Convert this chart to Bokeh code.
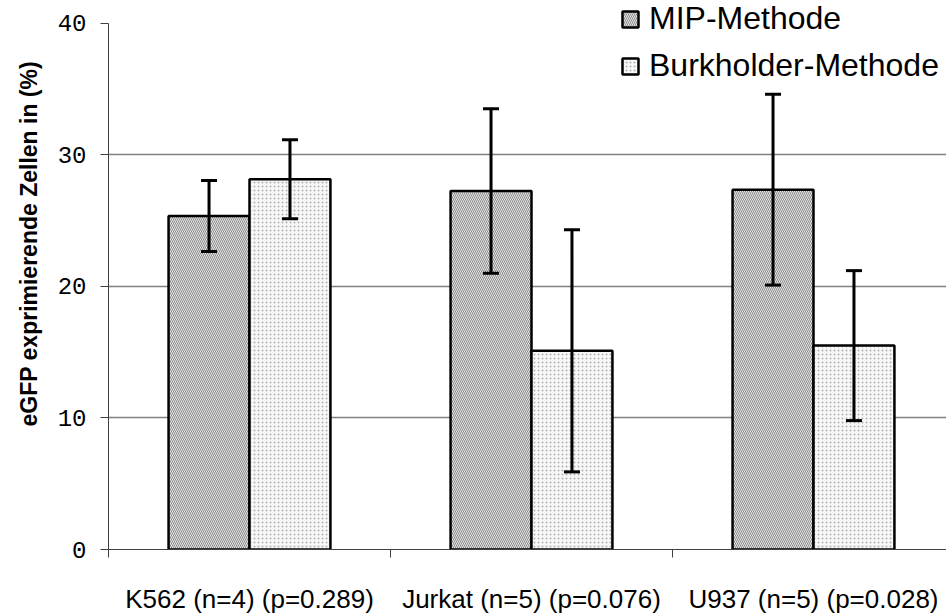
import math
from bokeh.plotting import figure
from bokeh.models import (ColumnDataSource, FixedTicker, Whisker, TeeHead, Legend,
                          LegendItem, Range1d, Title)
from bokeh.embed import file_html
from bokeh.resources import INLINE

# ---- data ----
categories = ["K562 (n=4) (p=0.289)", "Jurkat (n=5) (p=0.076)", "U937 (n=5) (p=0.028)"]
series_names = ["MIP-Methode", "Burkholder-Methode"]
mip_values = [25.35, 27.25, 27.35]
mip_errors = [2.7, 6.25, 7.25]
burk_values = [28.15, 15.1, 15.5]
burk_errors = [3.0, 9.2, 5.7]
y_ticks = [0, 10, 20, 30, 40]
y_label = "eGFP exprimierende Zellen in (%)"

W, H = 946, 616
LEFT, BOTTOM = 108, 63
frame_h = H - BOTTOM            # frame spans full height above the x axis
px_per_unit = 530.0 / 40.0
y_end = frame_h / px_per_unit   # axis top (40) sits 23 px below the frame top
cat_px = 282.0
frame_w = W - LEFT
x_end = frame_w / cat_px

bar_w = 0.287
centers = [i + 0.5 for i in range(len(categories))]
mip_x = [c - bar_w / 2 for c in centers]
burk_x = [c + bar_w / 2 for c in centers]

p = figure(width=W, height=H, output_backend="svg", toolbar_location=None,
           x_range=Range1d(0, x_end), y_range=Range1d(0, y_end),
           min_border_left=LEFT, min_border_top=0, min_border_bottom=BOTTOM,
           min_border_right=0)
p.outline_line_color = None
p.background_fill_color = "white"
p.border_fill_color = "white"

# grid
p.xgrid.visible = False
p.ygrid.ticker = FixedTicker(ticks=[10, 20, 30])
p.ygrid.grid_line_color = "#808080"
p.ygrid.grid_line_width = 1.5

src_mip = ColumnDataSource(dict(x=mip_x, top=mip_values,
                                upper=[v + e for v, e in zip(mip_values, mip_errors)],
                                lower=[v - e for v, e in zip(mip_values, mip_errors)]))
src_burk = ColumnDataSource(dict(x=burk_x, top=burk_values,
                                 upper=[v + e for v, e in zip(burk_values, burk_errors)],
                                 lower=[v - e for v, e in zip(burk_values, burk_errors)]))

r_mip = p.vbar(x="x", top="top", width=bar_w, bottom=0, source=src_mip,
               fill_color="#e6e6e6", line_color="black", line_width=2.5,
               hatch_pattern="\\", hatch_color="#8a8a8a", hatch_scale=4, hatch_weight=1)
r_burk = p.vbar(x="x", top="top", width=bar_w, bottom=0, source=src_burk,
                fill_color="#f8f8f8", line_color="black", line_width=2.5,
                hatch_pattern=".", hatch_color="#b0b0b0", hatch_scale=4, hatch_weight=1)

for src in (src_mip, src_burk):
    w = Whisker(base="x", upper="upper", lower="lower", source=src,
                line_color="black", line_width=3, level="annotation",
                upper_head=TeeHead(size=16, line_width=3, line_color="black"),
                lower_head=TeeHead(size=16, line_width=3, line_color="black"))
    p.add_layout(w)

# y axis
p.yaxis.ticker = FixedTicker(ticks=y_ticks)
p.yaxis.bounds = (0, 40)
p.yaxis.major_label_text_font = "Liberation Mono"
p.yaxis.major_label_text_font_size = "24px"
p.yaxis.major_label_text_color = "black"
p.yaxis.major_tick_out = 8
p.yaxis.major_tick_in = 0
p.yaxis.minor_tick_line_color = None
p.yaxis.axis_line_color = "#404040"
p.yaxis.major_tick_line_color = "#404040"
p.yaxis.major_label_standoff = 14

# x axis
p.xaxis.ticker = FixedTicker(ticks=centers, minor_ticks=[0, 1, 2, 3])
p.xaxis.major_label_overrides = {c: lab for c, lab in zip(centers, categories)}
p.xaxis.major_tick_line_color = None
p.xaxis.minor_tick_line_color = "#404040"
p.xaxis.minor_tick_out = 8
p.xaxis.minor_tick_in = 0
p.xaxis.axis_line_color = "#404040"
p.xaxis.major_label_text_font = "Liberation Sans"
p.xaxis.major_label_text_font_size = "26px"
p.xaxis.major_label_text_color = "black"
p.xaxis.major_label_standoff = 26

# y label as a side title (rotated)
p.add_layout(Title(text=y_label, align="left", offset=123, standoff=26,
                   text_font="Liberation Sans", text_font_style="bold",
                   text_font_size="23px", text_color="black"), "left")

legend = Legend(items=[LegendItem(label=series_names[0], renderers=[r_mip]),
                       LegendItem(label=series_names[1], renderers=[r_burk])],
                location=(512, 465), padding=0, margin=0, spacing=10,
                glyph_width=20, glyph_height=20, label_standoff=9,
                label_text_font="Liberation Sans", label_text_font_size="32px",
                label_text_color="black", border_line_color=None,
                background_fill_alpha=0)
p.add_layout(legend, "center")

open("out.html", "w").write(file_html(p, INLINE))
